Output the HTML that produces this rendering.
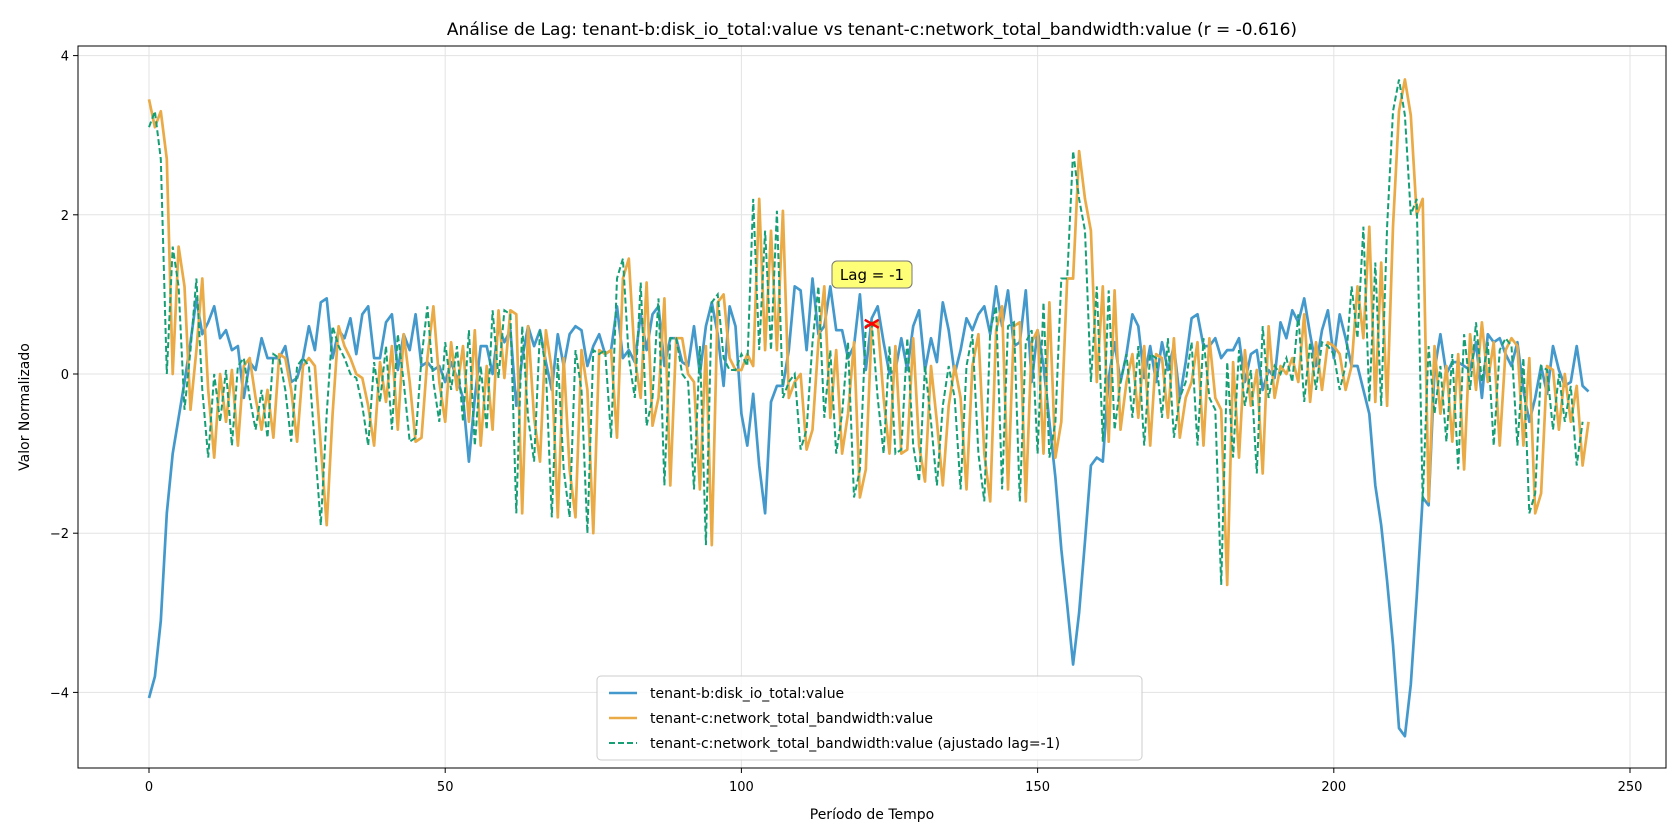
<!DOCTYPE html>
<html><head><meta charset="utf-8">
<style>
html,body{margin:0;padding:0;background:#fff;}
svg{display:block;font-family:"DejaVu Sans","Liberation Sans",sans-serif;}
</style></head>
<body>
<svg id="chart" width="1680" height="840" xmlns="http://www.w3.org/2000/svg">
<rect x="0" y="0" width="1680" height="840" fill="#fff"/>
<text x="872" y="35" text-anchor="middle" font-size="17" fill="#000">Análise de Lag: tenant-b:disk_io_total:value vs tenant-c:network_total_bandwidth:value (r = -0.616)</text>
<g id="grid"></g>
<g id="series"></g>
<rect x="78" y="46" width="1588" height="722" fill="none" stroke="#000" stroke-width="1"/>
<g id="ticks"></g>
<text x="872" y="819" text-anchor="middle" font-size="14">Período de Tempo</text>
<text x="0" y="0" transform="translate(29,407) rotate(-90)" text-anchor="middle" font-size="14">Valor Normalizado</text>
<g>
<rect x="597" y="676" width="545" height="84" rx="4" fill="#fff" fill-opacity="0.85" stroke="#ccc"/>
<line x1="609" y1="693" x2="637" y2="693" stroke="#4499cc" stroke-width="2.6"/>
<text x="650" y="698" font-size="14">tenant-b:disk_io_total:value</text>
<line x1="609" y1="718" x2="637" y2="718" stroke="#eaaa45" stroke-width="2.6"/>
<text x="650" y="723" font-size="14">tenant-c:network_total_bandwidth:value</text>
<line x1="609" y1="743" x2="637" y2="743" stroke="#169e74" stroke-width="2" stroke-dasharray="6,3"/>
<text x="650" y="748" font-size="14">tenant-c:network_total_bandwidth:value (ajustado lag=-1)</text>
</g>
</svg>
<script>
const blueValues=[-4.07,-3.8,-3.1,-1.75,-1.0,-0.55,-0.1,0.4,0.95,0.5,
0.65,0.85,0.45,0.55,0.3,0.35,-0.3,0.15,0.05,0.45,
0.2,0.2,0.2,0.35,-0.1,-0.05,0.2,0.6,0.3,0.9,
0.95,0.2,0.55,0.45,0.7,0.25,0.75,0.85,0.2,0.2,
0.65,0.75,0.05,0.5,0.3,0.75,0.1,0.15,0.05,0.1,
-0.1,0.15,-0.05,-0.3,-1.1,-0.3,0.35,0.35,0.0,0.6,
0.4,0.55,-0.4,0.2,0.6,0.35,0.55,0.15,-0.2,0.5,
0.1,0.5,0.6,0.55,0.1,0.35,0.5,0.25,0.3,0.85,
0.2,0.3,0.15,0.75,0.3,0.75,0.85,0.1,0.45,0.45,
0.15,0.1,0.6,0.0,0.6,0.9,0.5,-0.15,0.85,0.6,
-0.5,-0.9,-0.25,-1.15,-1.75,-0.35,-0.15,-0.15,0.3,1.1,
1.05,0.3,1.2,0.5,0.6,1.1,0.55,0.55,0.2,0.35,
1.0,0.05,0.7,0.85,0.4,0.0,0.05,0.45,0.05,0.6,
0.8,0.05,0.45,0.15,0.9,0.55,0.0,0.3,0.7,0.55,
0.75,0.85,0.5,1.1,0.6,1.05,0.35,0.4,1.05,-0.1,
0.55,0.1,-0.6,-1.3,-2.2,-2.9,-3.65,-3.0,-2.1,-1.15,
-1.05,-1.1,-0.05,0.4,-0.1,0.25,0.75,0.6,-0.05,0.35,
-0.1,0.4,0.05,0.35,-0.3,0.15,0.7,0.75,0.35,0.35,
0.45,0.2,0.3,0.3,0.45,-0.1,0.25,0.3,-0.2,0.05,
-0.05,0.65,0.45,0.8,0.65,0.95,0.5,0.1,0.55,0.8,
0.2,0.75,0.45,0.1,0.1,-0.2,-0.5,-1.4,-1.9,-2.6,
-3.4,-4.45,-4.55,-3.9,-2.8,-1.55,-1.65,0.05,0.5,0.0,
0.15,0.15,0.1,0.05,0.4,-0.3,0.5,0.4,0.45,0.25,
0.1,0.4,-0.2,-0.6,-0.3,0.1,-0.25,0.35,0.05,-0.15,
-0.1,0.35,-0.15,-0.22];
const orangeValues=[3.45,3.1,3.3,2.7,0.0,1.6,1.1,-0.45,0.3,1.2,
-0.2,-1.05,0.0,-0.6,0.05,-0.9,0.1,0.2,-0.3,-0.7,
-0.2,-0.8,0.25,0.2,-0.2,-0.85,0.1,0.2,0.1,-0.9,
-1.9,-0.5,0.6,0.35,0.2,0.0,-0.05,-0.4,-0.9,0.15,
-0.35,0.35,-0.7,0.5,-0.1,-0.85,-0.8,0.2,0.85,-0.1,
-0.6,0.4,-0.2,0.35,-0.6,0.55,-0.9,0.1,-0.7,0.8,
-0.05,0.8,0.75,-1.75,0.6,-0.55,-1.1,0.55,0.05,-1.8,
0.2,-1.2,-1.8,0.3,-0.2,-2.0,0.3,0.25,0.3,-0.8,
1.2,1.45,0.2,-0.3,1.15,-0.65,-0.3,0.95,-1.4,0.45,
0.45,0.0,-0.1,-1.45,0.35,-2.15,0.9,1.0,0.2,0.05,
0.05,0.25,0.1,2.2,0.3,1.8,0.3,2.05,-0.3,-0.1,
0.0,-0.95,-0.7,0.4,1.1,-0.55,0.3,-1.0,-0.5,0.4,
-1.55,-1.2,0.6,0.65,-0.3,-1.0,0.35,-1.0,-0.95,0.45,
-0.9,-1.35,0.1,-0.6,-1.4,-0.4,0.1,-0.3,-1.45,0.1,
0.5,-1.0,-1.6,0.55,0.85,-1.45,0.6,0.65,-1.6,0.4,
0.55,-1.0,0.9,-1.05,-0.6,1.2,1.2,2.8,2.2,1.8,
-0.1,1.1,-0.85,1.05,-0.7,-0.1,0.25,-0.55,0.35,-0.9,
0.25,0.2,-0.55,0.45,-0.8,-0.3,-0.1,0.4,-0.9,0.45,
-0.3,-0.45,-2.65,0.15,-1.05,0.3,-0.4,0.05,-1.25,0.6,
-0.3,0.1,0.0,0.2,-0.1,0.75,-0.35,0.4,-0.2,0.4,
0.35,0.25,-0.2,0.1,1.1,0.45,1.85,-0.35,1.4,-0.4,
1.85,3.3,3.7,3.25,2.0,2.2,-1.6,0.35,-0.5,0.1,
-0.85,0.25,-1.2,0.5,-0.2,0.65,-0.1,0.4,-0.9,0.3,
0.45,0.35,-0.9,0.2,-1.75,-1.5,0.1,0.05,-0.7,0.0,
-0.6,-0.15,-1.15,-0.6];
const lag=-1;
const xTicks=[0,50,100,150,200,250];
const yTicks=[-4,-2,0,2,4];
const markerPoint=[122,0.63];

const NS="http://www.w3.org/2000/svg";
const X0=149, XU=5.924, Y0=374, YU=79.6;
function xs(v){return X0+v*XU;}
function ys(v){return Y0-v*YU;}
function mk(tag,attrs,parent){const e=document.createElementNS(NS,tag);for(const k in attrs)e.setAttribute(k,attrs[k]);parent.appendChild(e);return e;}
const grid=document.getElementById('grid'), ticks=document.getElementById('ticks'), series=document.getElementById('series');
xTicks.forEach(t=>{
  const g=mk('line',{x1:xs(t),x2:xs(t),y1:46,y2:768,stroke:'#e3e3e3','stroke-width':1},grid);
  
  
  const tk=mk('line',{x1:xs(t),x2:xs(t),y1:768,y2:773,stroke:'#000'},ticks);
  
  
  const tx=mk('text',{x:xs(t),y:791,'text-anchor':'middle','font-size':13},ticks);
  tx.textContent=t;
  
  
});
yTicks.forEach(t=>{
  const g=mk('line',{x1:78,x2:1666,y1:ys(t),y2:ys(t),stroke:'#e3e3e3','stroke-width':1},grid);
  
  
  const tk=mk('line',{x1:73,x2:78,y1:ys(t),y2:ys(t),stroke:'#000'},ticks);
  
  
  const tx=mk('text',{x:69,y:ys(t)+5,'text-anchor':'end','font-size':13},ticks);
  tx.textContent=(t<0?'\u2212'+Math.abs(t):t);
  
  
});
function pts(arr){return arr.map((v,i)=>xs(i).toFixed(1)+','+ys(v).toFixed(1)).join(' ');}
const greenValues=orangeValues.slice(-lag);
const pb=mk('polyline',{points:pts(blueValues),fill:'none',stroke:'#4499cc','stroke-width':2.7,'stroke-linejoin':'round'},series);


const po=mk('polyline',{points:pts(orangeValues),fill:'none',stroke:'#eaaa45','stroke-width':2.7,'stroke-linejoin':'round'},series);


const pg=mk('polyline',{points:pts(greenValues),fill:'none',stroke:'#169e74','stroke-width':2,'stroke-dasharray':'6,3'},series);


const mx=xs(markerPoint[0]), my=ys(markerPoint[1]);
const m=mk('path',{d:`M${mx-7},${my-4} L${mx+7},${my+4} M${mx-7},${my+4} L${mx+7},${my-4}`,stroke:'#ff0000','stroke-width':2.5,fill:'none'},series);


const ab=mk('rect',{x:832,y:261,width:80,height:27,rx:5,fill:'#ffff77',stroke:'#777','stroke-width':1},series);


const at=mk('text',{x:872,y:280,'text-anchor':'middle','font-size':15},series);
at.textContent='Lag = -1';


</script>
</body></html>
